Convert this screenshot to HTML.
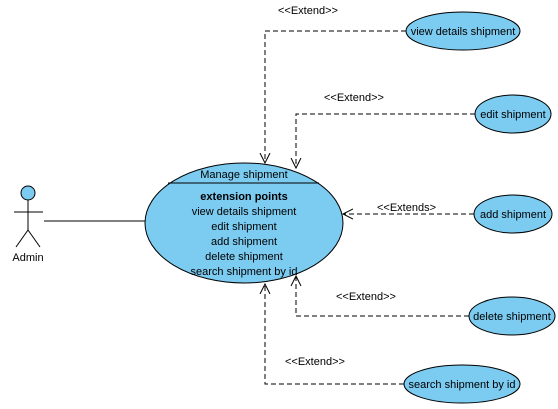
<!DOCTYPE html>
<html><head><style>body{margin:0;background:#fff}svg{display:block}text{font-family:"Liberation Sans",Arial,sans-serif;font-size:11px;fill:#000}</style></head><body>
<svg width="558" height="409" viewBox="0 0 558 409">
<defs><marker id="a" markerWidth="12" markerHeight="12" refX="10" refY="6" orient="auto" markerUnits="userSpaceOnUse"><path d="M0,1 L10,6 L0,11" fill="none" stroke="#000"/></marker></defs>
<g stroke="#000" fill="none">
<circle cx="28" cy="193" r="7" fill="#7ccbf0"/>
<line x1="28" y1="200" x2="28" y2="230"/>
<line x1="14" y1="212" x2="43" y2="212"/>
<line x1="28" y1="230" x2="16" y2="247"/>
<line x1="28" y1="230" x2="40" y2="247"/>
<line x1="44" y1="221" x2="145" y2="221"/>
<g stroke-dasharray="5,3">
<polyline points="406,31 265,31 265,163" marker-end="url(#a)"/>
<polyline points="475,114 296,114 296,168" marker-end="url(#a)"/>
<polyline points="474,214 343,214" marker-end="url(#a)"/>
<polyline points="469,316 296,316 296,276" marker-end="url(#a)"/>
<polyline points="404,384 265,384 265,284" marker-end="url(#a)"/>
</g>
<ellipse cx="244" cy="223" rx="99" ry="60" fill="#7ccbf0"/>
<line x1="168" y1="183" x2="319" y2="183"/>
<ellipse cx="463" cy="31" rx="57" ry="19" fill="#7ccbf0"/>
<ellipse cx="513" cy="114" rx="38" ry="19" fill="#7ccbf0"/>
<ellipse cx="513" cy="214" rx="39" ry="19" fill="#7ccbf0"/>
<ellipse cx="512" cy="316" rx="43" ry="19" fill="#7ccbf0"/>
<ellipse cx="462" cy="384" rx="58" ry="19" fill="#7ccbf0"/>
</g>
<text x="28" y="261" text-anchor="middle">Admin</text>
<g text-anchor="middle">
<text x="244" y="178">Manage shipment</text>
<text x="244" y="200" font-weight="bold">extension points</text>
<text x="244" y="215">view details shipment</text>
<text x="244" y="230">edit shipment</text>
<text x="244" y="245">add shipment</text>
<text x="244" y="260">delete shipment</text>
<text x="244" y="275">search shipment by id</text>
<text x="463" y="35">view details shipment</text>
<text x="513" y="118">edit shipment</text>
<text x="513" y="218">add shipment</text>
<text x="512" y="320">delete shipment</text>
<text x="462" y="388">search shipment by id</text>
</g>
<text x="278" y="14">&lt;&lt;Extend&gt;&gt;</text>
<text x="324" y="101">&lt;&lt;Extend&gt;&gt;</text>
<text x="377" y="211">&lt;&lt;Extends&gt;</text>
<text x="336" y="300">&lt;&lt;Extend&gt;&gt;</text>
<text x="285" y="365">&lt;&lt;Extend&gt;&gt;</text>
</svg>
</body></html>
